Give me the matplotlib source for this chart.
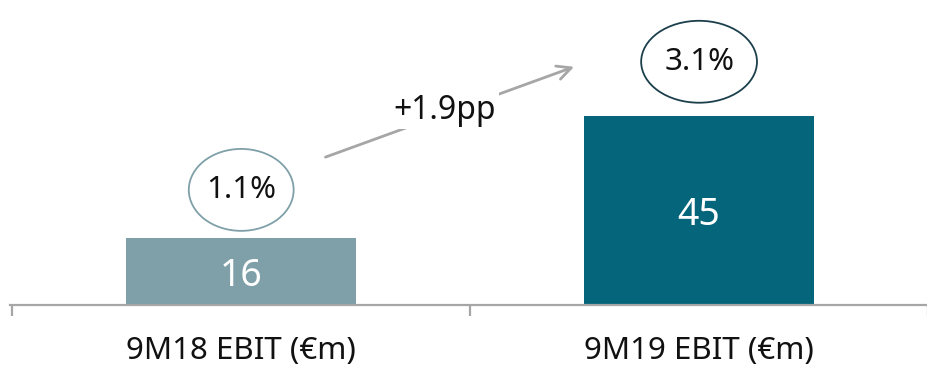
import matplotlib
matplotlib.use("Agg")
import matplotlib.pyplot as plt
from matplotlib.patches import Ellipse

categories = ["9M18 EBIT (€m)", "9M19 EBIT (€m)"]
ebit = [16, 45]
margins = ["1.1%", "3.1%"]
change_label = "+1.9pp"

bar_colors = ["#7fa0a8", "#05657a"]
ring_colors = ["#7fa0a8", "#1c3f4c"]
grey = "#a6a6a6"

plt.rcParams['font.family'] = ['Noto Sans', 'DejaVu Sans']

fig = plt.figure(figsize=(9.28, 3.69), dpi=100)
ax = fig.add_axes([10 / 928, 64 / 369, 918 / 928, 305 / 369])

x = list(range(len(categories)))
ax.bar(x, ebit, width=0.502, color=bar_colors)
ax.set_xlim(-0.505, 1.47)
ax.set_ylim(0, 72.6)

for xi, v in zip(x, ebit):
    ax.text(xi, v / 2 - 1.0, str(v), ha="center", va="center", color="white", fontsize=27)

# margin bubbles above the bars
ring_w = [0.229, 0.253]
ring_off = [11.4, 12.9]
for xi, v, m, c, w, off in zip(x, ebit, margins, ring_colors, ring_w, ring_off):
    cy = v + off
    ax.add_patch(Ellipse((xi, cy), w, 19.5, fill=False, ec=c, lw=1.3, clip_on=False))
    ax.text(xi, cy, m, ha="center", va="center", fontsize=22.5, color="#111111")

# arrow between the bubbles
ax.annotate("", xy=(0.727, 56.7), xytext=(0.184, 35.2),
            arrowprops=dict(arrowstyle="->,head_length=1.0,head_width=0.5",
                            color=grey, lw=2, shrinkA=0, shrinkB=0))
ax.text(0.444, 46.4, change_label, ha="center", va="center", fontsize=23,
        color="#111111", bbox=dict(fc="white", ec="none", pad=2))

for s in ["top", "right", "left"]:
    ax.spines[s].set_visible(False)
ax.spines["bottom"].set_color(grey)
ax.spines["bottom"].set_linewidth(1.6)
ax.set_yticks([])
ax.set_xticks([-0.5, 0.5, 1.5])
ax.set_xticklabels([])
ax.tick_params(axis="x", which="major", length=8, width=1.6, color=grey)
ax.set_xticks(x, minor=True)
ax.set_xticklabels(categories, minor=True, fontsize=22.5, color="#111111")
ax.tick_params(axis="x", which="minor", length=0, pad=22)

fig.savefig("out.png", dpi=100)
